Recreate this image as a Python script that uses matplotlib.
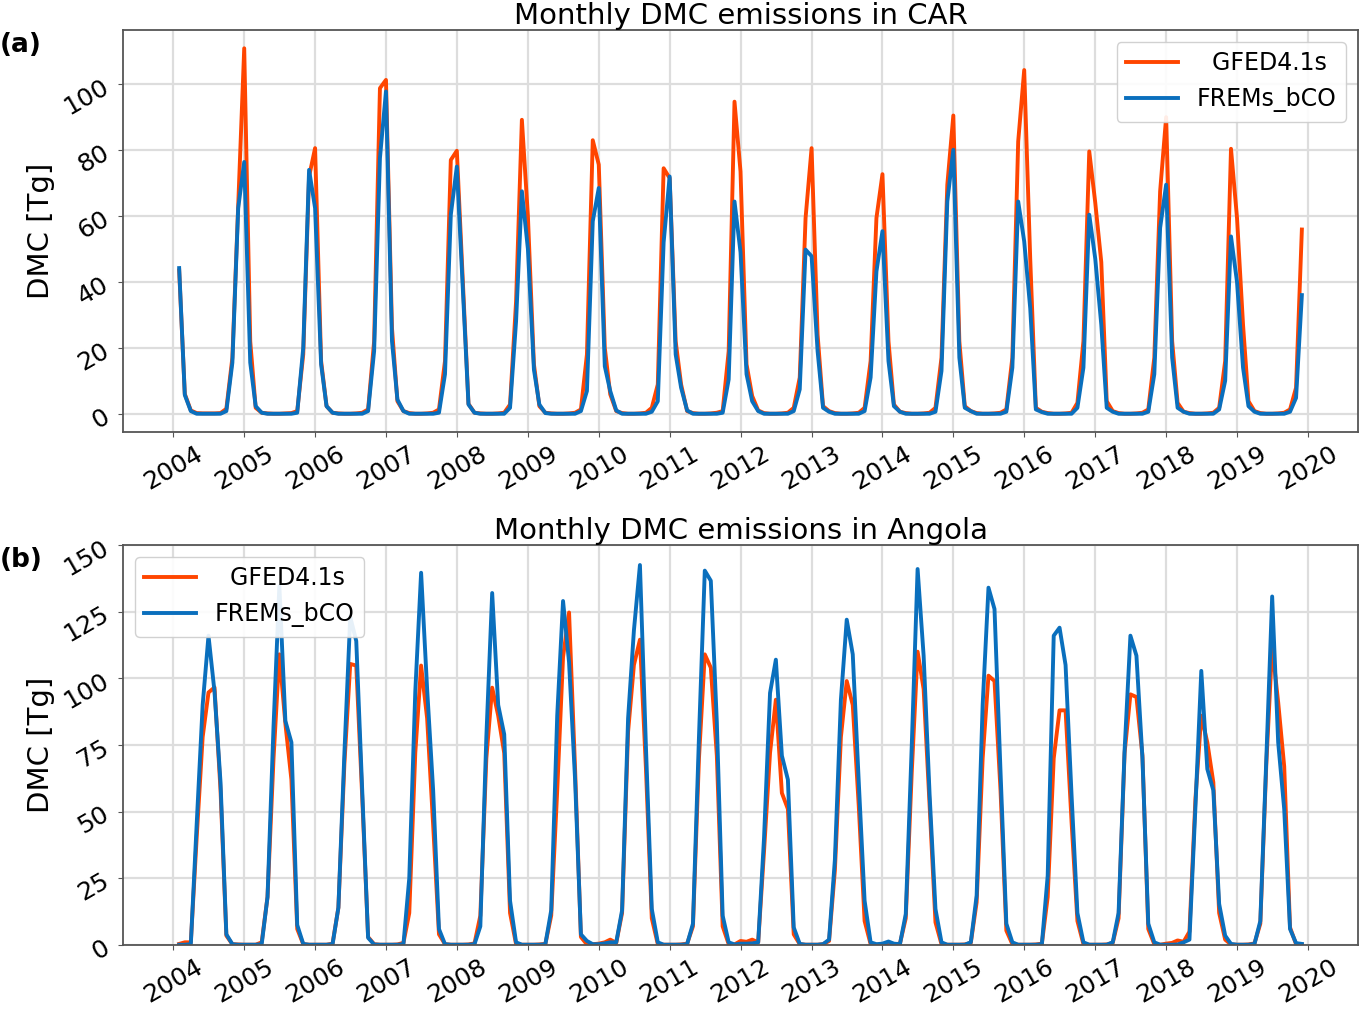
import pandas as pd
import matplotlib
matplotlib.use('Agg')
from matplotlib import pyplot as plt
import matplotlib.dates as mdates

# monthly values, Feb 2004 .. Dec 2019 (first row has 11 months)
car_gfed = [
          43.5, 6.0, 1.0, 0.2, 0.1, 0.1, 0.1, 0.2, 1.5, 17.0, 63.0,
    110.9, 22.0, 1.8, 0.3, 0.1, 0.0, 0.0, 0.1, 0.2, 0.8, 18.0, 72.0,
    80.6, 16.0, 2.3, 0.3, 0.1, 0.0, 0.0, 0.1, 0.3, 1.3, 22.0, 98.8,
    101.3, 26.0, 3.8, 0.8, 0.2, 0.0, 0.0, 0.1, 0.3, 1.3, 16.0, 77.0,
    79.8, 40.0, 3.0, 0.3, 0.1, 0.0, 0.0, 0.1, 0.3, 2.8, 34.0, 89.2,
    60.0, 15.0, 2.3, 0.3, 0.1, 0.0, 0.0, 0.1, 0.3, 1.3, 18.0, 83.0,
    75.6, 20.0, 5.9, 0.8, 0.2, 0.0, 0.0, 0.1, 0.3, 1.8, 8.9, 74.5,
    71.5, 22.0, 8.9, 0.8, 0.2, 0.0, 0.0, 0.1, 0.3, 0.8, 19.0, 94.7,
    73.5, 15.0, 5.4, 1.0, 0.2, 0.0, 0.0, 0.1, 0.3, 1.8, 11.0, 59.4,
    80.6, 24.0, 2.3, 0.8, 0.2, 0.0, 0.0, 0.1, 0.3, 1.8, 16.0, 59.4,
    72.7, 22.0, 2.8, 0.6, 0.2, 0.0, 0.0, 0.1, 0.3, 1.8, 17.0, 69.5,
    90.5, 22.0, 2.3, 0.8, 0.2, 0.0, 0.0, 0.1, 0.3, 1.3, 17.0, 82.6,
    104.3, 47.0, 1.8, 0.6, 0.2, 0.0, 0.0, 0.1, 0.3, 3.3, 22.0, 79.6,
    64.0, 46.0, 3.8, 0.8, 0.2, 0.0, 0.0, 0.1, 0.3, 1.3, 17.0, 67.5,
    90.0, 22.0, 3.3, 0.6, 0.2, 0.0, 0.0, 0.1, 0.3, 1.8, 16.0, 80.4,
    59.4, 27.0, 3.8, 0.8, 0.2, 0.0, 0.0, 0.1, 0.3, 1.3, 7.9, 55.9,
]
car_frems = [
          44.2, 5.7, 0.8, 0.0, 0.0, 0.0, 0.0, 0.0, 0.8, 15.5, 62.4,
    76.4, 15.5, 2.3, 0.3, 0.0, 0.0, 0.0, 0.0, 0.0, 0.3, 20.0, 74.0,
    62.4, 15.0, 2.3, 0.3, 0.0, 0.0, 0.0, 0.0, 0.0, 0.8, 19.0, 77.6,
    97.8, 22.0, 4.3, 0.8, 0.0, 0.0, 0.0, 0.0, 0.0, 0.3, 12.0, 60.4,
    75.0, 38.0, 2.8, 0.3, 0.0, 0.0, 0.0, 0.0, 0.0, 1.8, 28.0, 67.5,
    50.0, 13.4, 2.8, 0.2, 0.0, 0.0, 0.0, 0.0, 0.0, 0.8, 6.9, 58.4,
    68.5, 14.4, 6.9, 1.0, 0.0, 0.0, 0.0, 0.0, 0.0, 0.6, 3.8, 52.0,
    72.0, 18.0, 7.9, 1.0, 0.0, 0.0, 0.0, 0.0, 0.0, 0.3, 10.4, 64.4,
    49.0, 12.0, 3.8, 0.8, 0.0, 0.0, 0.0, 0.0, 0.0, 0.8, 7.4, 49.8,
    47.8, 19.0, 1.8, 0.6, 0.0, 0.0, 0.0, 0.0, 0.0, 0.8, 11.0, 43.2,
    55.4, 16.0, 2.3, 0.6, 0.0, 0.0, 0.0, 0.0, 0.0, 0.6, 13.0, 64.4,
    80.1, 17.0, 1.8, 0.8, 0.0, 0.0, 0.0, 0.0, 0.0, 0.6, 14.0, 64.4,
    52.3, 32.0, 1.3, 0.5, 0.0, 0.0, 0.0, 0.0, 0.0, 1.8, 14.0, 60.4,
    47.0, 27.0, 1.8, 0.6, 0.0, 0.0, 0.0, 0.0, 0.0, 0.6, 12.0, 56.4,
    69.5, 17.0, 1.8, 0.6, 0.0, 0.0, 0.0, 0.0, 0.0, 1.3, 10.0, 53.8,
    40.0, 14.0, 2.3, 0.6, 0.0, 0.0, 0.0, 0.0, 0.0, 0.6, 4.8, 36.0,
]
ang_gfed = [
          0.4, 1.0, 1.0, 40.0, 78.0, 94.7, 96.6, 58.0, 3.5, 0.3, 0.2,
    0.1, 0.1, 0.1, 1.0, 18.0, 70.0, 109.0, 83.0, 62.0, 6.0, 0.3, 0.1,
    0.1, 0.1, 0.1, 0.5, 14.0, 68.0, 105.4, 104.8, 55.0, 3.0, 0.3, 0.1,
    0.1, 0.1, 0.2, 0.8, 12.0, 72.0, 104.8, 85.0, 45.0, 4.0, 0.3, 0.1,
    0.1, 0.1, 0.2, 0.6, 11.0, 70.0, 96.5, 86.0, 72.0, 12.0, 0.3, 0.1,
    0.1, 0.1, 0.2, 0.4, 11.0, 58.0, 108.0, 124.7, 66.0, 3.0, 0.2, 0.3,
    0.5, 1.0, 2.0, 0.8, 12.0, 80.0, 105.0, 114.5, 66.0, 10.0, 0.3, 0.1,
    0.1, 0.1, 0.2, 0.5, 7.0, 70.0, 109.0, 104.0, 71.0, 7.0, 0.3, 0.2,
    1.5, 1.2, 2.0, 1.0, 35.0, 72.0, 92.0, 57.0, 51.0, 4.0, 0.3, 0.1,
    0.1, 0.1, 0.3, 1.5, 28.0, 78.0, 99.0, 90.0, 52.0, 9.0, 0.3, 0.1,
    0.1, 0.3, 0.3, 0.5, 10.0, 65.0, 110.0, 96.0, 52.0, 8.5, 0.3, 0.1,
    0.1, 0.1, 0.2, 0.8, 16.0, 70.0, 101.0, 99.0, 58.0, 5.4, 0.3, 0.1,
    0.1, 0.1, 0.2, 0.5, 18.0, 70.0, 88.0, 88.0, 46.0, 9.0, 0.3, 0.1,
    0.1, 0.1, 0.2, 0.8, 10.0, 72.0, 94.0, 93.0, 71.0, 6.0, 0.3, 0.1,
    0.5, 0.8, 1.7, 1.2, 5.0, 55.0, 86.0, 76.0, 61.0, 12.0, 2.0, 0.2,
    0.1, 0.1, 0.2, 0.6, 8.0, 68.0, 112.0, 91.0, 67.0, 6.6, 0.3, 0.1,
]
ang_frems = [
          0.1, 0.1, 0.3, 45.0, 90.0, 116.0, 95.0, 61.0, 4.0, 0.3, 0.1,
    0.1, 0.1, 0.1, 0.3, 18.0, 82.0, 134.6, 84.0, 76.0, 7.5, 0.4, 0.1,
    0.1, 0.1, 0.1, 0.3, 14.0, 72.0, 123.0, 114.0, 57.0, 2.7, 0.2, 0.1,
    0.1, 0.1, 0.1, 0.3, 25.0, 95.0, 139.6, 96.0, 58.0, 6.0, 0.3, 0.1,
    0.1, 0.1, 0.1, 0.3, 7.0, 78.0, 132.0, 90.0, 79.0, 16.6, 1.0, 0.1,
    0.1, 0.1, 0.1, 0.3, 13.0, 86.0, 129.0, 106.0, 62.0, 4.0, 1.5, 0.3,
    0.3, 0.6, 1.0, 1.0, 13.0, 85.0, 118.0, 142.5, 74.0, 13.5, 1.0, 0.1,
    0.1, 0.1, 0.1, 0.3, 8.0, 78.0, 140.4, 136.6, 83.5, 11.0, 1.0, 0.2,
    0.5, 0.5, 0.6, 1.0, 40.0, 94.5, 107.0, 71.0, 62.0, 6.6, 0.4, 0.1,
    0.1, 0.1, 0.3, 2.0, 32.0, 92.0, 122.0, 109.0, 61.0, 16.6, 1.0, 0.3,
    0.5, 1.3, 0.5, 0.3, 11.6, 75.0, 141.0, 108.5, 56.0, 13.5, 1.0, 0.1,
    0.1, 0.1, 0.1, 1.0, 18.5, 90.0, 134.0, 126.0, 65.0, 8.0, 1.0, 0.1,
    0.1, 0.1, 0.1, 0.3, 26.0, 116.0, 119.0, 105.0, 56.0, 12.0, 1.0, 0.1,
    0.1, 0.1, 0.1, 1.0, 12.0, 73.0, 116.0, 108.5, 70.0, 8.0, 1.0, 0.1,
    0.1, 0.1, 0.2, 1.0, 2.0, 52.0, 102.8, 66.0, 58.0, 15.4, 3.5, 0.4,
    0.1, 0.1, 0.1, 0.4, 9.0, 70.0, 130.7, 76.0, 51.0, 6.0, 0.7, 0.4,
]
panels = ['CAR', 'Angola']
series_names = ['  GFED4.1s', 'FREMs_bCO']

dates = pd.date_range('2004-02-01', '2019-12-01', freq='MS')

red = '#ff4500'
blue = '#0a6fbd'

fig = plt.figure(figsize=(13.61, 10.11), dpi=100)
ax1 = fig.add_axes([0.0904, 0.5727, 0.9074, 0.3976])
ax2 = fig.add_axes([0.0904, 0.0653, 0.9074, 0.3956])

for ax, gfed, frems, name in [(ax1, car_gfed, car_frems, panels[0]),
                              (ax2, ang_gfed, ang_frems, panels[1])]:
    ax.plot(dates, gfed, color=red, lw=2.8, label=series_names[0])
    ax.plot(dates, frems, color=blue, lw=2.8, label=series_names[1])
    ax.set_title('Monthly DMC emissions in ' + name, fontsize=21, pad=3)
    ax.set_ylabel('DMC [Tg]', fontsize=21)
    ax.grid(True, color='#dddddd', lw=1.6)
    ax.set_axisbelow(True)
    ax.xaxis.set_major_locator(mdates.YearLocator())
    ax.xaxis.set_major_formatter(mdates.DateFormatter('%Y'))
    ax.tick_params(labelsize=18, color='#555555')
    for lab in ax.get_xticklabels():
        lab.set_rotation(30)
        lab.set_ha('center')
    for lab in ax.get_yticklabels():
        lab.set_rotation(30)
    for s in ax.spines.values():
        s.set_color('#555555')
        s.set_linewidth(1.3)

ax1.set_yticks([0, 20, 40, 60, 80, 100])
ax2.set_yticks([0, 25, 50, 75, 100, 125, 150])
ax2.set_ylim(0, 150)
ax2.set_xlim(ax1.get_xlim())
for lab in ax1.get_yticklabels() + ax2.get_yticklabels():
    lab.set_rotation(30)

ax1.legend(loc='upper right', fontsize=17, handlelength=2.2, framealpha=0.9)
ax2.legend(loc='upper left', fontsize=17, handlelength=2.2, framealpha=0.9)

fig.text(0.0, 1 - 45 / 1011, '(a)', fontsize=19, fontweight='bold', va='center')
fig.text(0.0, 1 - 560 / 1011, '(b)', fontsize=19, fontweight='bold', va='center')

plt.savefig('out.png', dpi=100)
